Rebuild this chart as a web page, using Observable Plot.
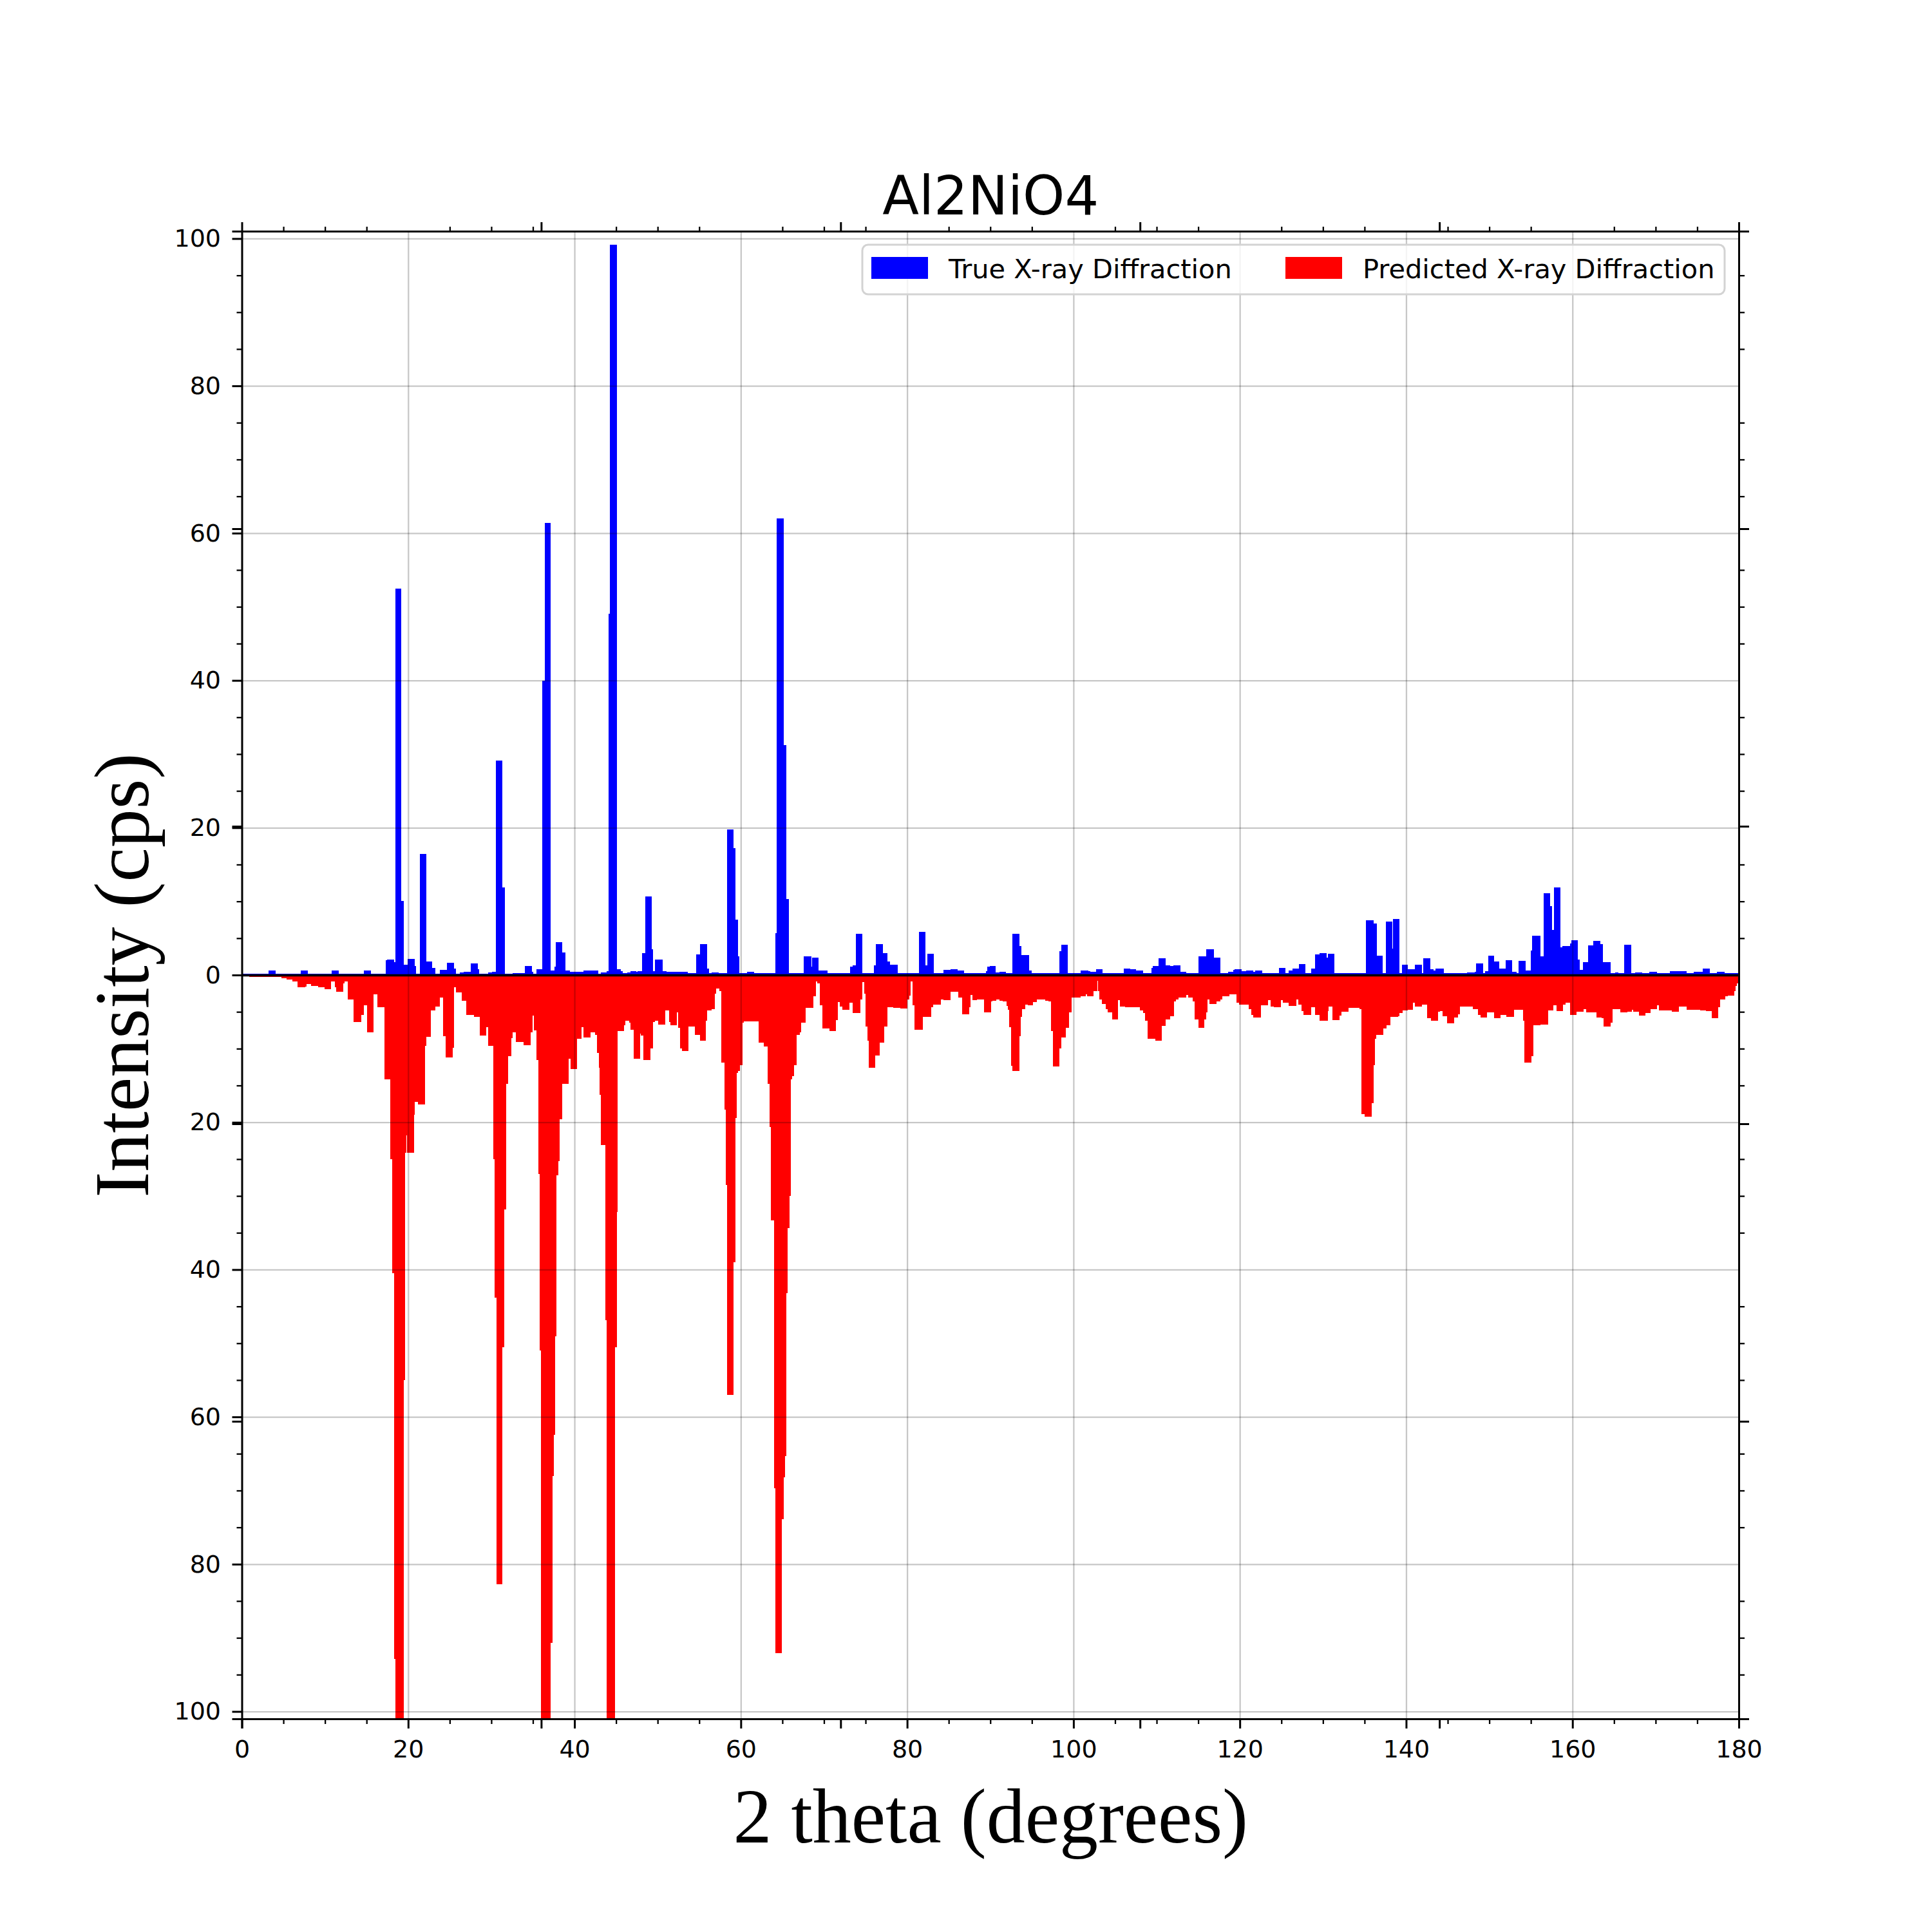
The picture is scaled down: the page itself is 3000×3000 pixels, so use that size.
<!DOCTYPE html>
<html>
<head>
<meta charset="utf-8">
<script src="https://cdn.jsdelivr.net/npm/d3@7"></script>
<script src="https://cdn.jsdelivr.net/npm/@observablehq/plot@0.6"></script>
<style>
html, body { margin: 0; padding: 0; background: #fff; }
#wrap { position: relative; width: 3000px; height: 3000px; }
#legend { position: absolute; left: 1337px; top: 378px; }
</style>
</head>
<body>
<div id="wrap"></div>
<script>
const title = "Al2NiO4";
const xLabel = "2 theta (degrees)";
const yLabel = "Intensity (cps)";
const seriesNames = ["True X-ray Diffraction", "Predicted X-ray Diffraction"];
const seriesColors = ["#0000ff", "#ff0000"];
const xDomain = [0, 180];
const yDomain = [-101, 101];
const xMajorTicks = [0, 20, 40, 60, 80, 100, 120, 140, 160, 180];
const yMajorTicks = [-100, -80, -60, -40, -20, 0, 20, 40, 60, 80, 100];

// True XRD: [bin start (deg), intensity]; each bin runs to the next start
const trueXrd = [
[0.12,0.2],[3.2,0.64],[4.09,0.2],[7.05,0.64],[7.94,0.2],[10.8,0.64],[11.67,0.2],[14.7,0.64],[15.53,0.2],
[17.3,2.0],[17.5,2.1],[18.31,1.75],[18.45,52.5],[19.14,10.1],[19.44,0.2],[19.5,1.4],[19.94,2.2],[20.77,1.2],
[20.92,0.2],[21.42,16.4],[22.16,1.8],[22.9,1.0],[23.29,0.2],[23.82,0.7],[24.7,1.65],[25.5,0.9],[25.72,0.2],
[26.25,0.35],[26.7,0.45],[27.5,1.55],[28.4,0.8],[28.55,0.2],[29.6,0.35],[30.1,0.45],[30.55,29.1],[31.35,11.9],
[31.6,0.2],[32.6,0.3],[34.0,1.2],[34.9,0.45],[35.05,0.2],[35.4,0.8],[36.1,40.0],[36.4,61.4],[37.1,0.64],
[37.6,1.15],[37.75,4.45],[38.55,3.05],[38.93,0.64],[39.43,0.45],[41.07,0.64],[42.84,0.2],[43.14,0.35],[43.88,0.5],
[44.12,49.1],[44.28,99.2],[45.13,0.8],[45.58,0.5],[45.82,0.25],[46.35,0.35],[46.7,0.5],[47.44,0.45],[47.59,0.5],
[48.12,3.0],[48.48,10.7],[49.28,3.5],[49.43,0.55],[49.67,2.1],[50.64,0.5],[51.06,0.4],[52.84,0.45],[53.66,0.3],
[54.61,2.8],[55.06,4.2],[55.95,0.9],[56.18,0.3],[56.48,0.35],[57.37,0.25],[58.35,19.8],[59.14,17.2],[59.38,7.5],
[59.65,2.5],[59.83,0.3],[60.78,0.4],[61.6,0.3],[63.15,0.25],[64.18,5.7],[64.32,62.0],[65.18,31.2],[65.5,10.3],
[65.81,0.25],[66.41,0.3],[67.59,2.5],[68.48,1.15],[68.57,2.4],[69.37,0.64],[70.4,0.25],[70.99,0.3],[73.13,1.1],
[73.46,1.3],[73.81,5.6],[74.61,0.25],[75.0,0.3],[76.04,1.35],[76.27,4.2],[77.07,3.0],[77.61,1.8],[77.96,1.4],
[78.85,0.25],[79.44,0.3],[81.43,5.9],[82.2,1.3],[82.41,2.9],[83.24,0.25],[84.33,0.7],[85.22,0.8],[86.05,0.64],
[86.85,0.25],[88.27,0.3],[89.46,0.55],[89.62,1.1],[89.91,1.2],[90.62,0.35],[91.1,0.45],[91.9,0.25],[92.64,5.6],
[93.53,3.9],[93.74,2.7],[94.65,0.6],[95.01,0.25],[95.45,0.3],[98.33,3.2],[98.5,4.1],[99.3,0.3],[100.0,0.25],
[100.88,0.64],[101.76,0.5],[102.06,0.4],[102.71,0.8],[103.51,0.3],[105.2,0.25],[106.03,0.9],[106.86,0.8],
[107.54,0.64],[108.4,0.25],[109.38,0.95],[109.53,1.2],[110.21,2.3],[111.07,1.3],[111.6,1.25],[111.99,1.3],
[112.85,0.45],[113.59,0.3],[114.5,0.25],[115.01,2.5],[115.96,3.5],[116.88,2.4],[117.68,0.25],[118.56,0.45],
[119.21,0.7],[119.36,0.8],[120.19,0.5],[120.79,0.64],[121.59,0.45],[121.82,0.64],[122.71,0.25],[124.7,0.95],
[125.47,0.3],[125.91,0.64],[126.36,0.9],[127.1,1.5],[127.9,0.25],[128.55,0.9],[129.02,2.8],[129.59,3.0],
[130.42,2.4],[130.56,2.9],[131.39,0.25],[134.36,0.3],[135.18,7.4],[136.07,7.0],[136.51,2.6],[137.19,0.25],
[137.55,7.3],[138.35,3.6],[138.44,7.6],[139.18,0.25],[139.48,1.4],[140.22,0.8],[141.05,1.4],[141.9,0.3],
[142.08,2.3],[142.88,0.8],[143.27,0.64],[143.53,0.9],[144.51,0.3],[147.33,0.35],[148.22,0.45],[148.42,1.6],
[149.25,0.25],[149.49,0.5],[149.85,2.6],[150.59,1.8],[151.18,0.9],[151.98,2.0],[152.72,0.45],[153.25,0.25],
[153.49,1.9],[154.35,0.64],[154.97,3.3],[155.18,5.3],[156.13,2.5],[156.51,11.1],[157.34,9.4],[157.55,6.1],
[157.76,11.9],[158.53,3.8],[158.82,3.9],[159.68,4.3],[159.83,4.7],[160.66,2.1],[160.87,0.7],[161.25,1.75],
[161.85,4.0],[162.53,4.6],[163.33,4.2],[163.68,1.75],[164.57,0.25],[165.1,0.35],[165.55,0.3],[166.2,4.1],
[167.03,0.3],[167.56,0.35],[168.36,0.3],[169.25,0.4],[170.14,0.3],[171.03,0.25],[171.68,0.5],[173.7,0.3],
[174.59,0.45],[175.68,0.9],[176.51,0.25],[177.4,0.45],[178.29,0.25]
];

// Predicted XRD: [bin start (deg), intensity drawn downward]
const predXrd = [
[0.12,0.15],[0.92,0.3],[4.77,0.4],[5.36,0.6],[6.1,0.9],[6.7,1.7],[7.59,1.6],[7.82,1.2],[8.33,1.5],[9.21,1.65],
[9.96,1.9],[10.73,0.9],[11.2,1.7],[11.35,2.3],[12.18,1.1],[12.33,0.9],[12.71,3.3],[13.45,6.4],[14.34,5.4],
[14.64,4.1],[15.05,7.8],[15.82,2.6],[16.33,4.4],[17.16,14.2],[17.87,25.0],[18.07,40.5],[18.33,92.9],[18.46,101],
[19.49,55.0],[19.61,24.1],[19.79,21.8],[19.87,24.1],[20.7,19.0],[20.77,17.2],[21.21,17.6],[22.01,9.6],[22.16,8.4],
[22.7,4.85],[23.29,4.3],[23.82,3.1],[24.18,8.3],[24.47,11.2],[25.36,9.9],[25.54,1.7],[25.72,2.4],[26.43,3.5],
[26.99,5.4],[27.88,5.7],[28.62,8.2],[29.36,7.1],[29.6,9.65],[30.25,25.0],[30.36,43.8],[30.59,82.7],[31.36,50.5],
[31.59,31.8],[31.75,14.8],[32.03,11.0],[32.41,8.6],[32.56,7.8],[32.98,9.1],[33.87,9.5],[34.7,7.8],[34.93,5.5],
[35.14,7.5],[35.44,11.5],[35.67,27.0],[35.81,51.0],[35.99,101],[37.15,90.7],[37.38,68.0],[37.53,62.4],[37.69,49.1],
[37.84,27.2],[38.07,25.3],[38.25,19.6],[38.55,14.8],[39.29,11.4],[39.53,12.8],[40.33,8.7],[40.86,7.1],[41.07,8.5],
[41.9,7.8],[42.49,8.1],[42.7,10.6],[42.9,12.6],[43.05,16.3],[43.16,23.1],[43.7,46.9],[43.88,101],[44.86,50.5],
[45.09,32.2],[45.22,7.6],[45.96,6.8],[46.11,6.25],[46.55,6.5],[46.76,7.4],[47.09,11.4],[47.89,8.0],[47.98,8.2],
[48.27,11.5],[49.13,10.0],[49.43,6.4],[49.7,6.2],[50.05,6.7],[50.94,4.8],[51.35,6.4],[51.5,6.8],[52.33,5.1],
[52.48,7.2],[52.72,10.0],[52.92,10.3],[53.72,7.0],[54.5,8.1],[55.06,8.9],[55.83,6.25],[55.98,4.85],[56.48,4.6],
[56.87,2.5],[57.07,1.8],[57.43,2.2],[57.67,11.9],[58.02,18.3],[58.22,28.5],[58.37,57.0],[59.15,39.0],[59.38,19.4],
[59.5,13.3],[59.68,13.0],[59.89,12.2],[60.18,6.5],[60.39,6.3],[62.17,9.2],[62.76,9.7],[63.2,14.8],[63.44,20.6],
[63.64,33.3],[64.0,69.7],[64.18,92.1],[64.95,73.9],[65.19,68.2],[65.34,65.3],[65.5,43.2],[65.65,34.4],[65.88,30.0],
[66.04,14.2],[66.2,13.75],[66.41,12.2],[66.7,8.1],[67.09,7.8],[67.24,6.5],[67.8,4.5],[68.69,2.85],[69.01,0.9],
[69.22,1.15],[69.52,4.1],[69.81,7.3],[70.64,7.6],[71.44,6.1],[71.65,3.7],[71.89,4.3],[72.24,4.7],[73.07,3.8],
[73.43,5.2],[74.41,3.3],[74.64,1.0],[74.85,2.5],[75.0,7.0],[75.21,8.9],[75.38,12.6],[76.18,10.9],[76.72,9.2],
[77.22,7.0],[77.66,4.4],[78.35,4.5],[79.21,4.55],[80.04,3.3],[80.24,2.8],[80.42,0.9],[80.63,4.1],[80.92,7.4],
[81.87,5.7],[82.88,4.4],[83.15,4.0],[84.04,3.3],[84.33,3.4],[85.22,2.3],[86.11,3.1],[86.64,5.3],[87.44,4.4],
[87.65,2.7],[87.83,3.4],[88.39,3.3],[89.22,5.1],[90.12,3.6],[90.27,3.5],[90.71,3.3],[91.1,3.5],[91.51,3.6],
[91.96,4.2],[92.11,4.7],[92.28,7.1],[92.49,12.3],[92.64,13.0],[93.47,8.3],[93.68,5.7],[93.82,4.6],[94.18,4.0],
[94.48,4.1],[95.16,3.7],[95.6,3.3],[96.64,3.5],[97.02,3.6],[97.32,7.6],[97.53,12.4],[98.27,10.0],[98.5,8.5],
[99.07,7.2],[99.45,5.1],[99.75,3.05],[99.9,3.1],[100.85,2.85],[101.47,2.6],[101.62,2.9],[102.42,2.2],[102.86,0.8],
[102.95,2.2],[103.1,3.3],[103.4,3.9],[103.9,4.65],[104.11,5.1],[104.64,6.0],[105.38,3.4],[105.62,4.3],[106.18,4.4],
[107.1,4.4],[107.96,4.8],[108.34,5.2],[108.64,6.25],[108.94,8.7],[109.82,8.9],[110.65,6.9],[111.07,6.0],[111.6,5.6],
[112.05,3.6],[112.34,3.3],[112.64,3.05],[113.53,2.75],[113.82,3.1],[114.36,3.6],[114.56,6.0],[115.01,7.2],
[115.75,6.0],[115.96,5.1],[116.13,3.3],[116.34,3.9],[117.17,3.6],[117.68,3.3],[117.88,2.9],[118.71,2.6],[119.6,3.8],
[119.9,4.0],[121.08,4.65],[121.38,5.4],[121.62,5.8],[122.51,4.1],[123.4,3.4],[123.69,4.3],[124.11,4.4],[124.94,3.4],
[125.17,3.8],[125.91,4.2],[126.77,3.3],[127.0,4.0],[127.45,4.9],[127.66,5.4],[128.58,4.4],[129.02,5.4],[129.62,6.25],
[130.56,4.9],[130.71,4.3],[131.16,6.1],[131.99,5.5],[132.22,5.0],[133.08,4.5],[133.97,4.45],[134.42,4.6],
[134.65,18.9],[135.03,19.2],[135.83,17.4],[136.07,12.2],[136.22,8.7],[136.42,8.1],[137.25,7.3],[137.64,6.8],
[138.14,5.7],[139.03,5.6],[139.18,5.2],[139.56,4.85],[140.22,4.7],[140.81,3.8],[141.05,4.3],[141.93,4.0],
[142.53,5.9],[142.97,6.2],[143.83,5.0],[144.07,4.9],[144.36,5.6],[144.9,6.6],[145.79,5.8],[146.23,5.3],[146.44,4.3],
[148.01,4.6],[148.6,5.4],[148.96,5.8],[149.76,5.1],[150.59,5.9],[151.33,5.4],[152.07,5.7],[152.96,4.7],[154.05,6.2],
[154.2,11.9],[155.03,11.0],[155.27,6.8],[156.16,6.7],[157.11,4.8],[157.7,4.1],[158.05,4.9],[158.88,4.0],[159.18,3.8],
[159.68,5.4],[160.45,5.0],[161.34,4.65],[161.61,5.1],[162.88,5.8],[163.47,5.9],[163.77,7.0],[164.57,6.5],[164.81,4.6],
[165.79,5.1],[166.59,5.0],[167.12,4.7],[167.33,5.0],[168.01,5.5],[168.81,5.2],[169.4,4.65],[170.14,4.1],[170.38,4.8],
[171.98,5.0],[172.81,4.3],[173.7,4.7],[174.5,4.75],[175.33,4.85],[176.07,4.9],[176.72,5.9],[177.55,4.4],[177.79,3.3],
[178.38,2.9],[178.65,2.8],[179.48,2.2],[179.63,1.45],[179.77,1.15]
];

function toBins(pairs, sign) {
  return pairs.map(([x, v], i) => ({
    x1: x,
    x2: i < pairs.length - 1 ? pairs[i + 1][0] : xDomain[1],
    y1: 0,
    y2: sign * v
  }));
}
const blueBins = toBins(trueXrd, 1);
const redBins = toBins(predXrd, -1);

const xMinorTicks = d3.range(0, 181, 5).filter(d => d % 20 !== 0);
const yMinorTicks = d3.range(-100, 101, 5).filter(d => d % 20 !== 0);
const xTwinTicks = d3.range(6).map(i => xDomain[0] + i * (xDomain[1] - xDomain[0]) / 5);
const yTwinTicks = d3.range(6).map(i => yDomain[0] + i * (yDomain[1] - yDomain[0]) / 5);

const gridStyle = {stroke: "black", strokeOpacity: 0.22, strokeWidth: 2.3};
const majorTick = {tickSize: 15, strokeWidth: 3, fill: "none", label: null};
const minorTick = {tickSize: 8, strokeWidth: 2.3, fill: "none", label: null};

const chart = Plot.plot({
  width: 3000,
  height: 3000,
  marginLeft: 375.5,
  marginRight: 300,
  marginTop: 359,
  marginBottom: 331,
  x: {domain: xDomain},
  y: {domain: yDomain},
  style: {fontFamily: "DejaVu Sans", background: "white", color: "black"},
  marks: [
    Plot.rect(blueBins, {x1: "x1", x2: "x2", y1: "y1", y2: "y2", fill: seriesColors[0], inset: 0, clip: true, shapeRendering: "crispEdges"}),
    Plot.rect(redBins, {x1: "x1", x2: "x2", y1: "y1", y2: "y2", fill: seriesColors[1], inset: 0, clip: true, shapeRendering: "crispEdges"}),
    Plot.gridX(xMajorTicks, gridStyle),
    Plot.gridY(yMajorTicks, gridStyle),
    Plot.ruleY([0], {stroke: "black", strokeWidth: 3.5}),
    Plot.frame({stroke: "black", strokeWidth: 3}),
    Plot.axisX(xMajorTicks, {anchor: "bottom", tickSize: 15, tickPadding: 18, strokeWidth: 3, fontSize: 38, label: null}),
    Plot.axisX(xMinorTicks, {anchor: "bottom", ...minorTick}),
    Plot.axisX(xMinorTicks, {anchor: "top", ...minorTick}),
    Plot.axisX(xTwinTicks, {anchor: "bottom", ...majorTick}),
    Plot.axisX(xTwinTicks, {anchor: "top", ...majorTick}),
    Plot.axisY(yMajorTicks, {anchor: "left", tickSize: 15, tickPadding: 18, strokeWidth: 3, fontSize: 38, label: null, tickFormat: d => String(Math.abs(d))}),
    Plot.axisY(yMinorTicks, {anchor: "left", ...minorTick}),
    Plot.axisY(yMinorTicks, {anchor: "right", ...minorTick}),
    Plot.axisY(yTwinTicks, {anchor: "left", ...majorTick}),
    Plot.axisY(yTwinTicks, {anchor: "right", ...majorTick}),
    Plot.text([title], {text: d => d, frameAnchor: "top", lineAnchor: "middle", textAnchor: "middle", dy: -53, fontSize: 83, fontFamily: "DejaVu Sans"}),
    Plot.text([xLabel], {text: d => d, frameAnchor: "bottom", lineAnchor: "middle", textAnchor: "middle", dy: 153, fontSize: 120, fontFamily: "Liberation Serif"}),
    Plot.text([yLabel], {text: d => d, frameAnchor: "left", lineAnchor: "middle", textAnchor: "middle", dx: -184, rotate: -90, fontSize: 120, fontFamily: "Liberation Serif"})
  ]
});
const wrap = document.getElementById("wrap");
wrap.appendChild(chart);

// legend (upper right, inside axes)
const ns = "http://www.w3.org/2000/svg";
const lg = document.createElementNS(ns, "svg");
lg.setAttribute("id", "legend");
lg.setAttribute("width", "1343");
lg.setAttribute("height", "81");
function el(tag, attrs, txt) {
  const e = document.createElementNS(ns, tag);
  for (const k in attrs) e.setAttribute(k, attrs[k]);
  if (txt) e.textContent = txt;
  lg.appendChild(e);
  return e;
}
el("rect", {x: 2, y: 2, width: 1339, height: 77, rx: 9, fill: "white", "fill-opacity": 0.8, stroke: "#d3d3d3", "stroke-width": 3});
const entryX = [16, 659];
seriesNames.forEach((name, i) => {
  el("rect", {x: entryX[i], y: 21, width: 88, height: 34, fill: seriesColors[i]});
  el("text", {x: entryX[i] + 120, y: 54, "font-family": "DejaVu Sans", "font-size": 41.5, fill: "black"}, name);
});
wrap.appendChild(lg);
</script>
</body>
</html>
